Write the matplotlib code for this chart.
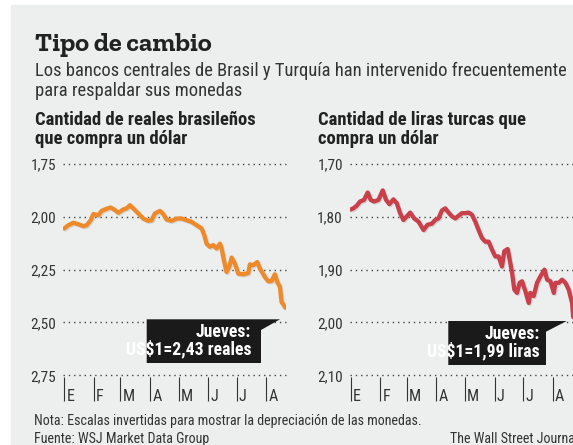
import matplotlib
matplotlib.use('Agg')
import matplotlib.pyplot as plt
from matplotlib import font_manager as fm
from matplotlib.patches import Polygon, Rectangle
import matplotlib.patheffects as pe

# days since Jan 1 2013 and exchange rate (units per US$)
brlDays = [0, 4.2, 9.5, 14.7, 20.0, 23.5, 27.7, 30.5, 35.7, 39.2, 44.4, 48.6, 53.2, 56.7, 61.9, 65.4,
           68.9, 72.4, 77.7, 82.9, 88.1, 91.6, 95.1, 100.4, 103.9, 107.4, 112.6, 117.9, 123.1, 128.4,
           133.6, 138.9, 144.1, 146.9, 149.3, 152.8, 156.3, 159.8, 163.3, 165.1, 167.5, 170.3, 173.1,
           175.6, 179.1, 182.6, 187.8, 193.0, 194.8, 198.3, 202.5, 205.3, 210.5, 214.0, 217.5, 221.0,
           223.5, 226.3, 228.0, 229.8, 232.0]
brlRate = [2.055, 2.040, 2.028, 2.035, 2.044, 2.040, 2.016, 1.987, 1.992, 1.972, 1.962, 1.956, 1.968,
           1.981, 1.965, 1.960, 1.945, 1.960, 1.984, 2.008, 2.019, 2.016, 1.984, 1.972, 1.987, 2.013,
           2.019, 2.008, 2.008, 2.016, 2.024, 2.040, 2.055, 2.087, 2.127, 2.142, 2.134, 2.150, 2.127,
           2.150, 2.206, 2.261, 2.237, 2.193, 2.222, 2.269, 2.272, 2.266, 2.225, 2.229, 2.214, 2.245,
           2.285, 2.305, 2.304, 2.272, 2.309, 2.332, 2.403, 2.415, 2.430]

tryDays = [0, 2.8, 6.3, 9.8, 14.0, 17.8, 21.0, 24.5, 29.1, 33.6, 37.1, 40.6, 44.8, 48.3, 51.8, 55.3,
           58.9, 62.4, 66.6, 71.1, 76.4, 80.6, 85.1, 88.6, 92.1, 95.7, 99.2, 102.7, 106.2, 109.7, 113.2,
           116.7, 120.2, 123.7, 127.2, 130.7, 134.2, 137.7, 141.2, 144.7, 148.2, 151.7, 155.2, 158.7,
           161.2, 164.7, 166.8, 169.3, 171.7, 174.5, 177.3, 179.8, 183.3, 186.8, 188.5, 192.0, 195.5,
           199.0, 203.3, 206.1, 209.6, 213.1, 214.8, 218.3, 221.8, 225.3, 228.8, 232.3, 233.5]
tryRate = [1.786, 1.784, 1.779, 1.771, 1.768, 1.754, 1.768, 1.771, 1.768, 1.750, 1.768, 1.776, 1.767,
           1.774, 1.793, 1.806, 1.799, 1.792, 1.803, 1.809, 1.825, 1.815, 1.813, 1.806, 1.803, 1.788,
           1.784, 1.792, 1.799, 1.803, 1.798, 1.793, 1.793, 1.792, 1.796, 1.809, 1.825, 1.840, 1.847,
           1.847, 1.862, 1.875, 1.875, 1.894, 1.865, 1.861, 1.881, 1.906, 1.938, 1.944, 1.925, 1.922,
           1.941, 1.963, 1.944, 1.950, 1.925, 1.913, 1.900, 1.919, 1.922, 1.944, 1.925, 1.925, 1.919,
           1.925, 1.938, 1.963, 1.990]

monthStarts = [0, 31, 59, 90, 120, 151, 181, 212]
monthLabels = ['E', 'F', 'M', 'A', 'M', 'J', 'J', 'A']
brlTicks = [1.75, 2.00, 2.25, 2.50, 2.75]
tryTicks = [1.70, 1.80, 1.90, 2.00, 2.10]

# pick narrow sans / slab serif fonts from whatever is installed
installed = {f.name for f in fm.fontManager.ttflist}
sansFont = next(n for n in ['Roboto Condensed', 'Archivo Narrow', 'Asap Condensed', 'Liberation Sans Narrow',
                            'DejaVu Sans'] if n in installed)
slabFont = next(n for n in ['Zilla Slab', 'Roboto Slab', 'Bitter', 'Arvo', 'DejaVu Serif'] if n in installed)

plt.rcParams['font.family'] = [sansFont, 'DejaVu Sans']
txtColor = '#333333'
headColor = '#222222'
bgColor = '#edeeee'

W, H = 573, 445


def fx(px):
    return px / W


def fy(py):
    return 1 - py / H


fig = plt.figure(figsize=(W / 100, H / 100), dpi=100)
fig.patches.append(Rectangle((fx(11), 0), 1, fy(5), transform=fig.transFigure, color=bgColor, zorder=-10))

fig.text(fx(35), fy(51), 'Tipo de cambio', family=[slabFont, 'DejaVu Serif'], weight='bold',
         size=19, color=headColor, va='baseline')
fig.text(fx(35), fy(75.7), 'Los bancos centrales de Brasil y Turquía han intervenido frecuentemente',
         size=13.3, color=txtColor, va='baseline')
fig.text(fx(35), fy(96), 'para respaldar sus monedas', size=13.3, color=txtColor, va='baseline')
fig.text(fx(35), fy(125), 'Cantidad de reales brasileños', size=13.4, weight='bold', color=headColor,
         va='baseline')
fig.text(fx(35), fy(144), 'que compra un dólar', size=13.4, weight='bold', color=headColor, va='baseline')
fig.text(fx(318), fy(125), 'Cantidad de liras turcas que', size=13.4, weight='bold', color=headColor,
         va='baseline')
fig.text(fx(318), fy(144), 'compra un dólar', size=13.4, weight='bold', color=headColor, va='baseline')

fig.text(fx(34), fy(424.5), 'Nota: Escalas invertidas para mostrar la depreciación de las monedas.',
         size=10.1, color=txtColor, va='baseline')
fig.text(fx(34), fy(443), 'Fuente: WSJ Market Data Group', size=10.1, color=txtColor, va='baseline')
fig.text(fx(450), fy(443), 'The Wall Street Journal', size=10.1, color=txtColor, va='baseline')

panels = [
    (63.3, brlDays, brlRate, brlTicks, '#ef8a2a',
     [(146.7, 319.3), (280, 319.3), (261, 330), (261, 363), (146.7, 363)], 251, 337.3, 'US$1=2,43 reales'),
    (349.75, tryDays, tryRate, tryTicks, '#c9404a',
     [(448.3, 321), (566.7, 321), (546, 331.7), (546, 365), (448.3, 365)], 540, 339.3, 'US$1=1,99 liras'),
]

for left, days, rate, ticks, color, box, txtRight, txtBase, label in panels:
    ax = fig.add_axes([fx(left), fy(375.3), 223 / W, 211.3 / H])
    ax.set_facecolor('none')
    for s in ax.spines.values():
        s.set_visible(False)
    ax.set_xlim(-1, 233)
    ax.set_ylim(ticks[-1], ticks[0])
    ax.set_yticks(ticks)
    ax.set_yticklabels([f'{t:.2f}'.replace('.', ',') for t in ticks], size=11, color=txtColor)
    ax.tick_params(axis='y', length=0, pad=5)
    ax.set_xticks([])
    for t in ticks:
        ax.axhline(t, color='#444444', lw=1.0, ls=(0, (1, 2.8)), zorder=1, clip_on=False)
    ax.plot(days, rate, color=color, lw=3.1, solid_joinstyle='round', solid_capstyle='round', zorder=3,
            path_effects=[pe.SimpleLineShadow(offset=(0.8, -0.8), shadow_color='#888888', alpha=0.25),
                          pe.Normal()])
    xform = ax.get_xaxis_transform()
    ax.vlines(monthStarts, -0.008, -0.12, transform=xform, color=txtColor, lw=0.8, clip_on=False)
    for m, lab in zip(monthStarts, monthLabels):
        ax.text(m + 2.2, -0.12, lab, transform=xform, size=11.5, color=txtColor, va='baseline', ha='left')

    fig.patches.append(Polygon([(fx(x), fy(y)) for x, y in box], closed=True, transform=fig.transFigure,
                               facecolor='#1a1a1a', edgecolor='none', zorder=5))
    fig.text(fx(txtRight), fy(txtBase), 'Jueves:', size=12.8, weight='bold', color='white', ha='right',
             va='baseline', zorder=6)
    fig.text(fx(txtRight), fy(txtBase + 17), label, size=12.8, weight='bold', color='white', ha='right',
             va='baseline', zorder=6)

fig.savefig('out.png', dpi=100, facecolor='white')
